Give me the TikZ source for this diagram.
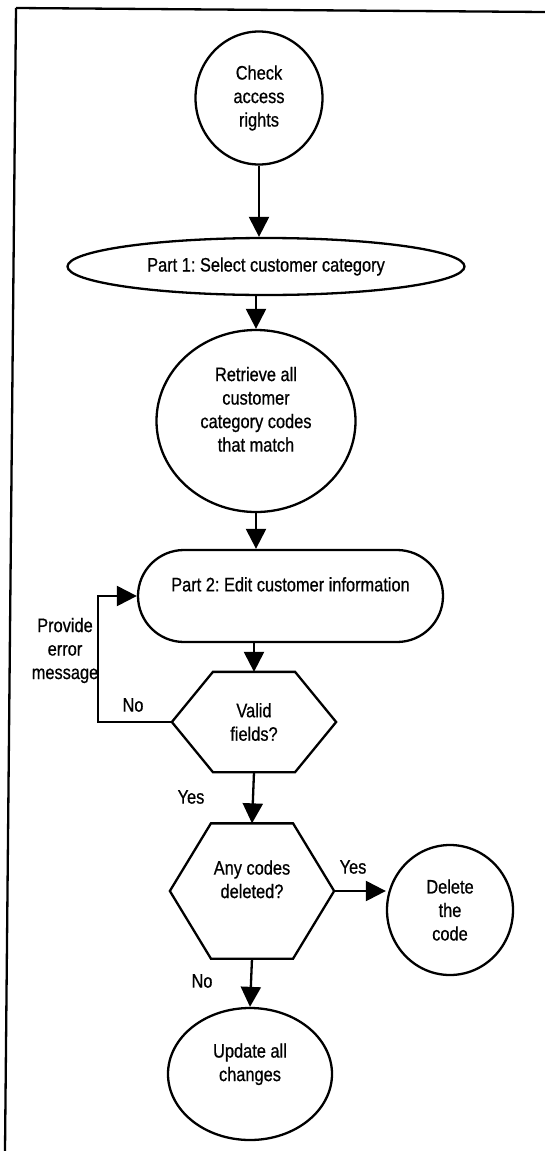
\documentclass[tikz,border=0pt]{standalone}
\usepackage{fontspec}
\setmainfont{Liberation Sans}[FakeStretch=0.84,FakeBold=0.7]
\usetikzlibrary{arrows.meta,shapes.geometric,shapes.misc,calc}
\frenchspacing

\begin{document}
\begin{tikzpicture}[x=1pt, y=-1pt, line width=2.3pt,
  font=\fontsize{19.5}{23.5}\selectfont,
  >={Triangle[length=20pt,width=20pt]},
  oval/.style={draw, ellipse, inner sep=0pt, align=center},
  hexbox/.style={inner sep=0pt, align=center, minimum width=162pt},
  lbl/.style={inner sep=0pt, align=center}]
  \useasboundingbox (0,0) rectangle (545,1151);
  \draw (16,8)--(545,12);
  \draw (16,8)--(5,1151);
  \node[oval, minimum width=127pt, minimum height=133pt] (check) at (259,98) {Check\\access\\rights};
  \node[oval, minimum width=397pt, minimum height=57pt] (part1) at (266,266.5) {Part 1: Select customer category};
  \node[oval, minimum width=199pt, minimum height=182pt] (retrieve) at (256,421) {Retrieve all\\customer\\category codes\\that match\\\mbox{}};
  \node[draw, rounded rectangle, inner sep=0pt, align=center, minimum width=305pt, minimum height=92pt] (part2) at (290.5,596) {Part 2: Edit customer information\\\mbox{}};
  \node[hexbox, minimum height=98pt] (valid) at (254,722) {Valid\\fields?};
  \node[hexbox, minimum height=133pt] (anycodes) at (252,891) {Any codes\\deleted?\\\mbox{}};
  \node[oval, minimum width=126pt, minimum height=130pt] (delete) at (450,910) {Delete\\the\\code};
  \node[oval, minimum width=164pt, minimum height=132pt] (update) at (250,1074) {Update all\\changes\\\mbox{}};
  \foreach \h in {valid,anycodes}{
    \draw (\h.west) -- ($(\h.north west)!.25!(\h.north east)$) -- ($(\h.north west)!.75!(\h.north east)$)
      -- (\h.east) -- ($(\h.south west)!.75!(\h.south east)$) -- ($(\h.south west)!.25!(\h.south east)$) -- cycle;
  }
  \draw[->] (check.south) -- (check.south |- part1.north);
  \draw[->] (retrieve.north |- part1.south) -- (retrieve.north);
  \draw[->] (retrieve.south) -- (retrieve.south |- part2.north);
  \draw[->] (valid.north |- part2.south) -- (valid.north);
  \draw[->] (valid.south) -- (anycodes.north);
  \draw[->] (anycodes.east) -- (anycodes.east -| delete.west);
  \draw[->] (anycodes.south) -- (update.north);
  \draw[->] (valid.west) -- ++(-74,0) |- (part2.west);
  \node[lbl] (err) at (65,650.5) {Provide\\error\\message};
  \node[lbl] (no1) at (133,705) {No};
  \node[lbl] (yes1) at (191,797) {Yes};
  \node[lbl] (yes2) at (353,867) {Yes};
  \node[lbl] (no2) at (202,981) {No};
\end{tikzpicture}
\end{document}
